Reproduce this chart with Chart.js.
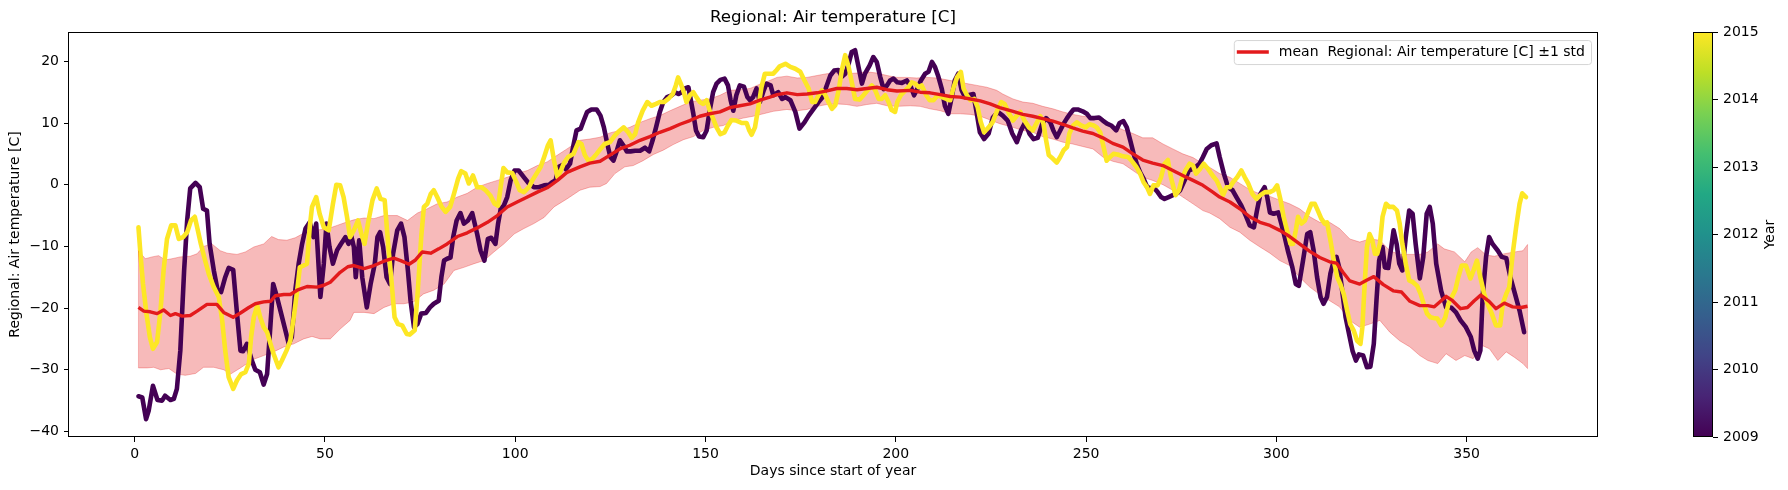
<!DOCTYPE html>
<html><head><meta charset="utf-8">
<script src="https://cdn.jsdelivr.net/npm/chart.js@4/dist/chart.umd.min.js"></script>
<style>
html,body{margin:0;padding:0;background:#fff;}
#wrap{position:relative;width:1788px;height:490px;overflow:hidden;}
#main{position:absolute;left:0;top:0;}
#cbar{position:absolute;left:1660px;top:0;}
</style></head><body>
<div id="wrap"><canvas id="main" width="1788" height="490"></canvas><canvas id="cbar" width="128" height="490"></canvas></div>
<script>
// ---------- data: [day, temperature °C] ----------
const t2009 = [[1,-34.3],[2,-34.5],[3,-38.0],[3.7,-36.6],[4.8,-32.6],[6,-34.9],[7.2,-35],[8,-34.2],[9.4,-34.9],[10.3,-34.7],[11.1,-33.1],[12,-26.9],[13,-13.9],[13.8,-5.8],[14.6,-0.6],[16,0.3],[17.1,-0.4],[18,-3.9],[19,-4.2],[19.7,-9.6],[20.8,-13.9],[21.8,-17.1],[22.7,-17.4],[23.8,-15],[24.7,-13.5],[25.9,-13.8],[26.9,-20.9],[27.8,-26.9],[28.5,-27],[29.5,-25.8],[30.8,-28.5],[31.7,-30],[32.9,-30.4],[33.9,-32.4],[34.8,-30.7],[35.7,-22.6],[36.4,-16.1],[37.4,-18.2],[38.5,-20.9],[39.6,-23.6],[40.5,-25.8],[41.3,-24.7],[42.2,-17.2],[43.1,-12.8],[44,-9.6],[44.9,-7.1],[46,-6.1],[47,-8.5],[47.7,-6.3],[48.8,-18.2],[49.7,-12.8],[50.4,-6.3],[51.2,-10.1],[52.1,-12.8],[53.2,-10.6],[54.2,-9.6],[55.4,-8.5],[56.2,-9.6],[56.8,-8],[57.6,-10.1],[58.1,-15],[59,-9],[59.8,-15],[61,-19.9],[62,-16.1],[63.1,-12.8],[63.8,-8.5],[64.5,-7.7],[65.3,-10.1],[66.2,-15],[67.1,-16.1],[67.9,-11.2],[69,-7.4],[70,-6.3],[70.9,-8.5],[71.8,-13.9],[72.5,-18.8],[73.4,-23.1],[74.3,-22.6],[75.3,-20.9],[76.5,-20.8],[77.6,-19.9],[78.6,-19.3],[79.9,-18.8],[80.6,-15],[81.3,-12.3],[82.1,-12],[83,-11.8],[83.7,-8.5],[84.6,-5.8],[85.6,-4.6],[86.5,-6.3],[87.6,-5.8],[88.7,-4.6],[90,-8],[90.9,-10.7],[91.9,-12.3],[92.8,-8.8],[93.7,-8.6],[94.8,-9.6],[95.5,-6.3],[96.2,-3.9],[97,-3.4],[97.9,-2],[98.8,0.7],[99.8,2.3],[100.9,2.3],[102.3,1.2],[103.6,0.2],[104.9,-0.4],[106.2,-0.4],[107.6,-0.1],[108.9,0],[109.7,0.4],[110.6,0.7],[111.5,2.9],[112.4,3.2],[113.3,2.5],[114.4,3.4],[115.2,6.1],[116.1,8.8],[117.2,9.1],[118,10.4],[118.9,11.8],[120,12.2],[121.4,12.2],[122.4,11.2],[123.3,9.3],[124.2,6.6],[125,4.5],[125.8,3.9],[126.6,5.3],[127.5,7.2],[128.4,6.4],[129.3,5.4],[130.3,5.4],[131.5,5.5],[132.8,5.5],[134.1,6],[135.2,5.4],[136.1,7.2],[137,9.3],[138,11.8],[138.9,13.4],[139.9,14.2],[141.1,14.5],[142,15],[142.9,14.7],[143.7,15],[144.6,15.6],[145.5,15.8],[146,14.2],[146.8,11.5],[147.5,8.8],[148.3,7.8],[149.4,7.7],[150.3,8.8],[151.1,12],[152,15],[152.9,16.4],[153.9,17],[155,17.2],[155.9,16.1],[156.6,13.7],[157.3,12],[158.1,14.5],[159,16.1],[160.1,15.9],[161,14.2],[161.7,13.7],[162.5,14.2],[163.4,15.6],[164.3,13.4],[165.3,15.3],[166,16.4],[167.1,16.1],[167.8,14.5],[169.1,15],[170.1,13.9],[171,14.2],[172.3,13.7],[173.6,11.8],[174.7,9.1],[176,10.1],[177.1,11.2],[178.4,12.3],[179.7,13.4],[180.8,14.2],[181.7,15.8],[182.8,17.7],[183.8,18.5],[184.9,18.6],[185.8,17.5],[186.7,18],[187.6,19.6],[188.4,21.5],[189.3,21.8],[190.2,19.1],[191.1,16.4],[191.9,18],[193.1,19.3],[194.1,20.7],[195,19.9],[195.9,17.5],[196.8,15.5],[197.7,16.1],[198.5,16.9],[199.4,17.2],[200.4,16.6],[201.6,16.5],[202.9,16.9],[204,15.8],[204.8,14.5],[205.7,15.6],[206.6,16.9],[207.7,18],[208.6,18.3],[209.5,19.9],[210.3,19.1],[211.2,17.5],[212.1,15.5],[212.9,12.8],[213.8,11.5],[214.7,14.2],[215.5,16.9],[216.4,18],[217.3,15.3],[218.2,14.2],[219,14.5],[220.4,14.7],[221.3,11.5],[222.1,8.5],[223.2,7.4],[224.4,8.3],[225.5,10.9],[226.8,11.8],[228.1,11.2],[229.4,10.4],[230.6,8.3],[231.8,6.9],[232.9,8.8],[234,10.1],[235.1,8.3],[236.2,7.4],[237.3,7.6],[238.5,9.9],[239.5,10.8],[240.6,10.1],[241.4,8.8],[242.3,7.7],[243.2,8.8],[244.1,9.9],[245,10.8],[245.8,11.5],[246.7,12.2],[247.8,12.2],[249.1,11.9],[250.2,11.5],[251.1,10.8],[252.2,10.8],[253.4,10.9],[254.4,10.4],[255.5,9.9],[256.6,9.6],[257.9,8.8],[258.8,10],[259.8,10.3],[260.7,9.3],[261.6,7.2],[262.5,5],[263.3,3.4],[264.2,2],[265.1,1],[266,-0.3],[266.8,-0.6],[267.7,-0.4],[268.8,-1.2],[269.7,-2],[270.6,-2.3],[271.7,-2],[272.8,-1.7],[273.7,-1.5],[274.7,-0.9],[275.9,0.7],[277,2.3],[278.1,2.6],[278.9,2.9],[279.8,3.4],[280.7,4.5],[281.7,5.8],[282.9,6.4],[284.3,6.7],[285.1,4.5],[286.2,1.8],[287.3,-0.4],[288.5,-0.9],[289.5,-2],[290.8,-3.4],[292.1,-5.2],[293,-6.6],[294.1,-6.9],[294.9,-4.2],[295.8,-1.5],[296.9,-0.4],[297.6,-2],[298.3,-4.5],[299.3,-4.7],[300.5,-4.5],[301.3,-6.3],[302.2,-8.5],[303.1,-10.9],[304.2,-13.4],[305.1,-16.1],[305.9,-16.4],[307,-12.3],[308.1,-8],[308.9,-7.7],[309.8,-10.7],[310.7,-15],[311.6,-18.2],[312.4,-19.3],[313.3,-18.2],[314.2,-14.4],[315.1,-12.3],[315.8,-11.7],[316.5,-13.4],[317.4,-17.7],[318.2,-21.5],[319.1,-24.2],[320,-26.9],[320.9,-28.5],[321.7,-27.5],[322.8,-27.7],[323.8,-29.6],[324.7,-29.5],[325.6,-25.8],[326.3,-18.8],[327,-12.3],[327.9,-10.1],[328.5,-13.4],[329.4,-13.5],[330.2,-10.1],[330.8,-7.4],[331.6,-9.6],[332.3,-12.8],[333.1,-13.9],[334,-8.5],[334.9,-4.2],[335.8,-4.7],[336.6,-9.6],[337.7,-15.2],[338.6,-11.7],[339.5,-4.7],[340.3,-3.6],[341.1,-6.3],[342,-12.8],[343.3,-17.2],[344.6,-19.9],[345.9,-19.9],[347.2,-20.7],[348.4,-22],[349.8,-23.1],[351.1,-24.7],[352,-26.9],[352.9,-28.2],[353.6,-26.9],[354.2,-18.2],[355.1,-11.7],[355.9,-8.5],[356.8,-9.6],[358.2,-10.7],[359.2,-11.7],[360.4,-11.9],[361.5,-15],[362.7,-17.7],[363.9,-20.4],[365.1,-23.9]];

const t2015 = [[1,-6.9],[1.6,-11.8],[2.2,-16.1],[3.1,-20.9],[4,-24.7],[4.8,-26.6],[5.9,-25.5],[6.8,-20.4],[7.6,-13.9],[8.5,-8.8],[9.6,-6.6],[10.7,-6.6],[11.6,-8.8],[12.7,-8.5],[13.8,-7.7],[14.8,-5.8],[15.8,-5.2],[16.6,-7.4],[17.4,-9.6],[18.3,-11.8],[19.5,-14.5],[20.8,-16.6],[22.1,-18.2],[23,-22],[23.8,-26.9],[24.7,-31.2],[25.9,-33.1],[26.9,-31.7],[28,-30.7],[29.1,-30.4],[30,-29],[30.6,-24.7],[31.3,-21.5],[32.2,-19.6],[33,-21.5],[33.9,-23.1],[34.8,-23.9],[35.7,-25.8],[36.5,-27.4],[37.8,-29.6],[38.7,-28.5],[39.9,-26.9],[40.9,-25.3],[41.8,-21.5],[42.7,-17.2],[43.4,-13.4],[44.4,-13.1],[45.3,-12.8],[46,-6.9],[46.6,-3.6],[47.7,-2],[48.6,-4.7],[49.7,-6.9],[51,-7.4],[52.1,-3.1],[53,0],[54,-0.1],[54.9,-2],[55.8,-5.2],[56.6,-8.5],[57.6,-7.4],[58.7,-5.8],[59.6,-8],[60.4,-9.6],[61.3,-6.3],[62.5,-2.5],[63.6,-0.6],[64.6,-2.3],[65.7,-2.5],[66.6,-9.6],[67.4,-15],[68.3,-21.5],[69.2,-22.6],[70.3,-22.8],[71.5,-24.2],[72.3,-24.3],[73.6,-23.6],[74.4,-17.2],[75.3,-8.5],[76,-3.6],[76.9,-3.1],[77.8,-1.5],[78.6,-0.9],[79.5,-2],[80.6,-3.5],[81.7,-4.4],[82.9,-3.6],[83.9,-1.5],[85,1],[85.8,2.2],[86.9,1.8],[87.8,0.2],[88.9,1.5],[90,-0.4],[91.1,-0.4],[92.2,-0.9],[93.4,-1.7],[94.6,-3.1],[95.5,-3.4],[96.3,0.2],[96.9,2.7],[97.9,2],[99.2,1.9],[100.1,0.7],[101.2,-0.9],[102.3,-1.2],[103.6,-0.4],[104.5,0.7],[105.6,1.8],[106.7,2.9],[107.6,4.5],[108.6,6.4],[109.3,7.2],[110.2,3.9],[111.1,1.2],[112,2.3],[112.8,3.5],[113.9,4.5],[115.3,5],[116.6,6.9],[117.4,6.6],[118.3,4.8],[119.2,3.9],[120.3,4.2],[121.4,5],[122.4,5.8],[123.5,6.6],[124.9,6.9],[126.2,8],[127.5,8.8],[128.5,9.3],[129.7,8.5],[130.6,7.6],[131.5,8.2],[132.3,10.1],[133.5,12],[134.7,13.4],[135.8,12.8],[137,13.1],[138,13.4],[139.1,13.4],[140.2,13.9],[141.4,14.7],[142.2,16.1],[142.8,17.4],[143.5,16.4],[144.3,15],[145,13.4],[145.9,14.5],[146.8,15],[147.6,14.2],[148.5,13.4],[149.4,13.1],[150.3,13.7],[151.1,12],[152,10.7],[152.9,9.3],[153.9,8.2],[155,8.5],[155.9,9.6],[156.8,10.5],[158.1,10.4],[159.5,10],[160.8,10],[161.5,8.8],[162.1,8.1],[163,9.3],[163.9,12.6],[164.7,15.8],[165.6,18],[166.7,18],[167.8,18],[168.7,18.6],[169.5,19.2],[171,19.6],[172.3,19.1],[173.6,18.8],[174.9,18.3],[176,16.9],[177.1,15.6],[178,13.4],[178.8,13.4],[179.7,14.5],[180.6,15.3],[181.5,14.5],[182.3,13.4],[183.2,12.3],[184.1,12.9],[185,15.3],[185.8,18.5],[186.7,21],[187.6,19.1],[188.5,16.4],[189.3,13.9],[190.5,13.8],[191.5,14.5],[192.6,15.3],[193.7,16.1],[194.6,15.3],[195.5,13.9],[196.3,13.9],[197.2,14.5],[198.1,13.4],[198.9,12.1],[199.8,11.8],[200.4,13.4],[201.3,14.5],[202.5,15.3],[203.3,15.8],[204.2,16.6],[205.1,16.4],[206,15.8],[206.8,16.1],[208,14.5],[208.9,13.7],[209.9,13.7],[211,14.5],[212.1,14.2],[213.3,13.9],[214.3,13.7],[215.2,15.8],[216.1,17.4],[217.1,18.3],[217.8,15.6],[218.7,14.5],[219.6,13.7],[220.6,13.9],[221.5,12.6],[222.3,10.2],[223.2,8.5],[224.4,9.3],[225.5,10.2],[226.6,12],[227.7,13.4],[228.6,13.1],[229.7,11.6],[230.8,10.4],[231.8,11.2],[232.7,11.8],[233.8,10.4],[235,9.3],[236,8.8],[237.1,10.1],[238,11.1],[238.8,9.9],[239.5,7.2],[240.2,4.8],[241.3,4.2],[242.3,3.6],[243.2,4.5],[244.1,5.6],[245,6.1],[245.6,8.3],[246.6,9.6],[247.6,10.1],[248.7,9.6],[249.9,9.3],[250.9,9.8],[252,9.6],[252.8,9.3],[253.7,8.5],[254.6,6.1],[255.4,3.9],[256.3,4.5],[257.2,5],[258.3,4.9],[259.7,4.6],[261,4.5],[262.1,3.8],[263.2,2.9],[264.2,1.8],[265.1,0.4],[266,-0.4],[266.8,-1.5],[267.7,-0.1],[268.8,-0.1],[269.7,1.2],[270.6,3.4],[271.5,4],[272.3,1.2],[273.5,-1.7],[274.4,-0.9],[275.2,1],[276.1,2.3],[277.2,3.4],[278.1,3.1],[278.9,1.8],[280,2.6],[280.9,3.4],[282,2.6],[282.9,1.8],[283.6,1.2],[284.3,0.7],[285.1,-0.4],[286,-1.7],[286.9,-0.4],[287.8,-0.4],[288.6,0.4],[289.7,1.2],[290.8,2.3],[291.7,1.2],[292.6,0.2],[293.7,-1.5],[294.8,-2.3],[295.8,-1.7],[297,-1.2],[298.3,-1.2],[299.3,-0.9],[300.2,-0.1],[301.1,-2.5],[301.9,-5.2],[302.8,-7.4],[303.7,-9.6],[304.4,-9.6],[305.1,-7.4],[305.7,-5.2],[306.6,-6.3],[307.5,-5.8],[308.3,-4.5],[309.2,-3.1],[310.1,-3.1],[310.9,-4.2],[311.8,-5.5],[312.7,-6.3],[313.3,-6.1],[314.2,-9],[315.1,-12.3],[316,-15],[316.8,-16.1],[317.7,-17.7],[318.6,-20.4],[319.4,-22.6],[320.3,-23.6],[321.2,-25.3],[322.1,-25.8],[322.6,-23.1],[323.2,-16.1],[323.8,-10.1],[324.5,-8],[325.2,-9],[325.9,-11.2],[326.5,-11.2],[327.2,-9.6],[327.9,-5.2],[328.8,-3.1],[329.7,-3.6],[330.7,-3.6],[331.7,-4.2],[332.4,-6.3],[333.1,-9.6],[334,-12.8],[334.9,-15.5],[335.9,-15.8],[337,-16.4],[337.9,-17.7],[338.7,-19.3],[339.6,-20.9],[340.5,-21.5],[341.3,-21.6],[342.3,-21.7],[343.3,-22.8],[344.4,-21.5],[345.2,-19.3],[346.1,-18.2],[347,-17.1],[347.8,-15],[348.7,-13.1],[349.8,-13.1],[351,-15.2],[351.8,-13.9],[352.7,-12.3],[353.6,-15],[354.6,-17.7],[355.5,-19.3],[356.6,-20.9],[357.7,-22.8],[358.8,-22.8],[359.5,-19.3],[360.4,-17.7],[361.2,-16.6],[362.1,-11.2],[363,-6.9],[363.9,-3.1],[364.6,-1.4],[365.6,-2]];

const meanT = [[1,-19.9],[2.4,-20.5],[4.1,-20.6],[5.9,-20.9],[7.6,-20.3],[9.4,-21.2],[10.7,-20.9],[12.5,-21.3],[14.6,-21.2],[16.4,-20.5],[19,-19.4],[21.6,-19.4],[23.4,-20.7],[25.9,-21.5],[27.8,-20.8],[30,-19.9],[31.7,-19.3],[33.9,-19],[35.7,-18.9],[37,-18],[39.2,-17.8],[40.9,-17.8],[42.7,-17.1],[45.3,-16.5],[47.9,-16.6],[49.7,-16.3],[51.4,-15.8],[54,-14.2],[56,-13.3],[57.6,-13.1],[60.3,-13.6],[62.9,-13.1],[65.5,-12.4],[68.1,-11.9],[69.9,-12.3],[72.1,-12.9],[73.8,-12.2],[75.6,-10.9],[77.8,-11.1],[79.9,-10.4],[82.1,-9.6],[84.8,-8.4],[87.4,-7.8],[90,-7],[92.7,-6.1],[95.3,-5],[97.9,-3.6],[100.5,-2.8],[103.2,-2],[105.8,-1.2],[108.4,-0.5],[111.1,0.7],[113.6,2],[117,2.9],[119.6,3.5],[122.3,3.8],[124.9,4.8],[127.5,5.8],[130.1,6.4],[132.8,7.2],[135.4,7.8],[138,8.5],[140.7,9.1],[143.3,9.8],[145.9,10.4],[148.5,11.1],[151.1,11.5],[153.8,11.8],[156.4,12.5],[159,12.8],[161.7,13.1],[164.3,13.7],[166.9,14.2],[168.8,14.6],[171.4,14.9],[174.1,14.6],[176.7,14.7],[179.3,14.9],[181.9,15.2],[184.5,15.6],[187.1,15.6],[189.8,15.4],[192.4,15.6],[195,15.8],[197.7,15.4],[200.3,15.2],[203.8,15.3],[206.4,15],[209,14.9],[211.7,14.6],[214.3,14.3],[216.9,14.2],[219.6,13.9],[222.2,13.6],[224.8,13.1],[227.3,12.5],[230.8,11.9],[233.4,11.4],[236,11.1],[238.6,10.7],[241.3,10.3],[243.9,9.8],[246.5,9.2],[249.1,8.7],[251.8,8.3],[254.4,7.6],[257,6.7],[259.7,6.1],[262.3,5],[264.9,4],[267.5,3.5],[270.2,3.1],[272.8,2.3],[275.4,1.5],[278.1,0.7],[280.7,-0.1],[283.3,-1.2],[285.1,-2],[287.8,-2.8],[290.4,-3.9],[293,-5.2],[295.7,-6.1],[298.3,-6.6],[300.9,-7.4],[303.5,-8.4],[306.1,-9.6],[308.8,-10.8],[311.4,-11.8],[314,-12.5],[315.8,-12.7],[317.5,-14.2],[319.3,-15.6],[321.9,-16.1],[323.7,-15.5],[325.6,-14.9],[328.1,-16.2],[330.7,-17.2],[332.9,-17.4],[335.1,-18.9],[337.7,-19.6],[339.8,-19.6],[341.5,-19.8],[343.3,-18.8],[344.6,-18.1],[346.3,-18.8],[348.4,-20.1],[350.2,-19.9],[352,-18.8],[353.7,-17.9],[355.9,-18.9],[357.7,-20.1],[359.9,-19.2],[362.1,-19.8],[364.3,-19.9],[366,-19.7]];

const upperT = [[1,-10.7],[2.8,-12],[4.6,-11.7],[6.3,-11.5],[8,-12.2],[9.8,-12],[12,-11.7],[14.6,-11.6],[16.4,-11.2],[18.1,-10],[20.3,-9.6],[22.5,-10.7],[24.3,-11.1],[26.9,-11.3],[29.1,-10.9],[31.3,-10.1],[33.9,-9.6],[36,-8.4],[37.8,-8.9],[40,-9],[42.2,-8.6],[44,-8],[47,-7.4],[50.5,-7.2],[53.2,-6.6],[55.5,-6.1],[57.6,-5.7],[60.3,-5.4],[62.9,-5.5],[65.5,-5],[69,-5],[71.7,-5.8],[74.3,-4.6],[76.9,-3.9],[79.5,-3.1],[82.1,-2.8],[84.8,-2],[87.4,-1.4],[90,-0.4],[92.7,0.2],[95.3,0.7],[97.9,1.2],[100.5,1.8],[103.2,2.3],[105.8,3.1],[108.4,3.7],[111.1,4.8],[113.6,5.8],[117,7.2],[119.6,7.4],[122.3,7.7],[124.9,8.4],[127.5,8.8],[130.1,9.3],[132.8,10.1],[135.4,10.7],[138,11.2],[140.7,12],[143.3,12.7],[145.9,13.4],[148.5,13.7],[151.1,13.9],[153.8,14.5],[156.4,15.3],[159,15.4],[161.7,15.6],[164.3,16.3],[166.9,16.9],[168.8,17.4],[171.4,17.6],[174.1,17.3],[176.7,17.4],[179.3,17.7],[181.9,18],[184.5,18.1],[187.1,18],[189.8,18.1],[192.4,18.3],[195,18.1],[197.7,17.7],[200.3,17.4],[202.9,17.4],[205.5,17.3],[208.1,17.4],[210.8,17.3],[213.4,17],[216,16.7],[218.6,16.4],[221.3,16.1],[223.9,15.8],[226.5,15.3],[228.1,14.7],[230.8,13.9],[233.4,13.4],[236,13.2],[238.6,12.7],[241.3,12.3],[243.9,11.8],[246.5,11.4],[249.1,11.1],[251.8,10.9],[254.4,10.5],[257,9.6],[259.7,8.9],[262.3,8.3],[264.9,7.6],[267.5,7.6],[270.2,6.6],[272.8,5.8],[275.4,5],[278.1,4.4],[280.7,3.4],[282.5,2.8],[285.1,1.8],[287.8,1.2],[290.4,0.2],[293,-0.8],[295.7,-1.5],[298.3,-1.9],[300.9,-2.5],[303.5,-3.1],[306.1,-3.9],[308.8,-5.2],[311.4,-6.1],[314,-6.1],[316.6,-7.1],[319.3,-8.8],[321.9,-9.3],[324.5,-8.8],[327.2,-9],[329.8,-10.7],[332.4,-11.3],[335.1,-11.3],[337.7,-11.3],[339.8,-10.9],[342.4,-9.6],[344.1,-10.4],[346.8,-10.9],[349.5,-12.5],[351.2,-10.9],[352.9,-10.2],[355.1,-11.4],[357.3,-11.6],[359.9,-11.2],[362.6,-10.9],[364.8,-10.7],[366,-9.7]];

const lowerT = [[1,-29.7],[3.3,-29.7],[5,-29.6],[6.8,-30],[9,-29.8],[11.1,-30.7],[13.3,-30.9],[16,-30.6],[18.1,-29.6],[20.8,-29.6],[23.4,-30],[25.2,-30.7],[27.8,-29.7],[29.5,-29],[31.7,-28.2],[33.9,-27.7],[36.5,-27.1],[39.2,-26.3],[41.8,-25.8],[44.4,-25],[46.6,-24.6],[48.8,-25],[51.4,-25],[54,-23.4],[56.6,-22],[57.6,-20.7],[60.3,-20.7],[62.9,-20.9],[65.5,-19.9],[68.1,-19.3],[70.7,-19.3],[73.3,-19],[75.9,-17.7],[78.6,-17.1],[81.3,-16.1],[83.9,-13.9],[86.5,-13.4],[89.2,-12.8],[91.8,-12.3],[94.4,-10.9],[97,-9.6],[99.7,-8],[102.3,-7.1],[104.9,-6.3],[107.6,-5.3],[110.2,-3.6],[113.6,-2.3],[117,-0.9],[119.6,-0.4],[122.3,-0.3],[124,0.2],[126.2,1.8],[128.8,2.9],[131,3.1],[133.6,3.9],[136.3,4.9],[138.9,5.6],[141.5,6.5],[144.2,7.3],[146.8,7.8],[149.4,8.8],[152,9.3],[154.7,9.6],[157.3,10.4],[159.9,10.8],[162.5,11.1],[165.2,11.5],[167.8,11.9],[171.4,12.2],[174.1,12],[176.7,12.2],[179.3,12.7],[181.9,13],[184.5,13.1],[187.1,13],[189.8,12.7],[192.4,13],[195,13.2],[197.7,12.8],[200.3,12.7],[203.8,12.8],[206.4,12.7],[209,12.3],[211.7,12],[214.3,11.5],[216.9,11.5],[219.6,11.4],[222.2,11.1],[224.8,10.5],[227.3,9.9],[230.8,9.3],[233.4,8.8],[236,8.5],[238.6,7.8],[241.3,7.4],[243.9,6.9],[246.5,6.6],[249.1,6.2],[251.8,5.8],[254.4,4.5],[257,3.8],[259.7,3.4],[262.3,2.3],[264.9,1.2],[267.5,0.7],[270.2,0],[272.8,-0.9],[275.4,-2],[278.1,-3.1],[280.7,-4.2],[282.5,-4.6],[285.1,-5.5],[287.8,-6.9],[290.4,-7.7],[293,-9],[295.7,-10.1],[298.3,-11.1],[300.9,-12.3],[303.5,-13.1],[306.1,-15],[308.8,-16.6],[311.4,-17.8],[314,-18.8],[316.6,-19.8],[319.3,-22],[321.9,-23.1],[324.5,-22.6],[327.2,-22],[329.8,-23.9],[332.4,-25.3],[335.1,-26.3],[337.7,-27.7],[339.8,-28.5],[342.4,-29],[344.6,-27.4],[347.2,-28.5],[349.5,-27.7],[351.7,-28.2],[354.2,-26.1],[356,-26.6],[358.2,-28.5],[360.4,-27.1],[362.6,-28],[364.8,-29],[366,-29.8]];

const xTicks = [0, 50, 100, 150, 200, 250, 300, 350];
const yTicks = [-40, -30, -20, -10, 0, 10, 20];
const cbTicks = [2009, 2010, 2011, 2012, 2013, 2014, 2015];
const legendLabel = 'mean  Regional: Air temperature [C] \u00b11 std';
const chartTitle = 'Regional: Air temperature [C]';
const xTitle = 'Days since start of year';
const yTitle = 'Regional: Air temperature [C]';
const cbTitle = 'Year';

// ---------- styling ----------
const FONT = "'DejaVu Sans', 'Liberation Sans', sans-serif";
Chart.defaults.font.family = FONT;
Chart.defaults.font.size = 14;
Chart.defaults.color = '#000';
const RED = '#e31a1c';
const BAND = 'rgba(227,26,28,0.3)';
const VIRIDIS = ['#440154','#482475','#414487','#355f8d','#2a788e','#21918c','#22a884','#44bf70','#7ad151','#bddf26','#fde725'];
const toXY = arr => arr.map(p => ({x: p[0], y: p[1]}));
const minus = v => (v < 0 ? '\u2212' + Math.abs(v) : String(v));

const framePlugin = {
  id: 'frame',
  afterDatasetsDraw(chart) {
    const a = chart.chartArea, ctx = chart.ctx;
    ctx.save();
    // closing edges of the ±1 std band at the first and last day
    const xs = chart.scales.x, ys = chart.scales.y;
    [[lowerT[0], upperT[0]], [lowerT[lowerT.length - 1], upperT[upperT.length - 1]]].forEach(([lo, hi]) => {
      ctx.beginPath();
      ctx.moveTo(xs.getPixelForValue(lo[0]), ys.getPixelForValue(lo[1]));
      ctx.lineTo(xs.getPixelForValue(hi[0]), ys.getPixelForValue(hi[1]));
      ctx.strokeStyle = BAND; ctx.lineWidth = 1; ctx.stroke();
    });
    ctx.strokeStyle = '#000'; ctx.lineWidth = 1;
    ctx.strokeRect(Math.round(a.left) - 0.5, Math.round(a.top) + 0.5, Math.round(a.right - a.left) + 1, Math.round(a.bottom - a.top) - 1);
    ctx.restore();
  }
};

const legendPlugin = {
  id: 'legendBox',
  afterDraw(chart) {
    const a = chart.chartArea, ctx = chart.ctx;
    ctx.save();
    ctx.font = '14px ' + FONT;
    const w = ctx.measureText(legendLabel).width;
    const right = a.right - 6;
    const textEnd = right - 6;
    const textStart = textEnd - w;
    const lineEnd = textStart - 10, lineStart = lineEnd - 32;
    const left = lineStart - 3;
    const top = a.top + 8, bottom = top + 24, mid = (top + bottom) / 2;
    ctx.beginPath();
    if (ctx.roundRect) ctx.roundRect(left + 0.5, top + 0.5, right - left, bottom - top, 3); else ctx.rect(left + 0.5, top + 0.5, right - left, bottom - top);
    ctx.fillStyle = 'rgba(255,255,255,0.8)'; ctx.fill();
    ctx.strokeStyle = 'rgba(204,204,204,0.8)'; ctx.lineWidth = 1; ctx.stroke();
    ctx.beginPath(); ctx.moveTo(lineStart, mid); ctx.lineTo(lineEnd, mid);
    ctx.strokeStyle = RED; ctx.lineWidth = 3.5; ctx.stroke();
    ctx.fillStyle = '#000'; ctx.textAlign = 'left'; ctx.textBaseline = 'middle';
    ctx.fillText(legendLabel, textStart, mid + 0.5);
    ctx.restore();
  }
};

new Chart(document.getElementById('main'), {
  type: 'line',
  data: {
    datasets: [
      {label: 'lower', data: toXY(lowerT), borderColor: BAND, borderWidth: 1, fill: false, pointRadius: 0, order: 4},
      {label: 'upper', data: toXY(upperT), borderColor: BAND, backgroundColor: BAND, borderWidth: 1, fill: '-1', pointRadius: 0, order: 3},
      {label: '2009', data: toXY(t2009), borderColor: VIRIDIS[0], borderWidth: 4.6, fill: false, pointRadius: 0, borderJoinStyle: 'round', borderCapStyle: 'round', order: 2},
      {label: '2015', data: toXY(t2015), borderColor: VIRIDIS[10], borderWidth: 4.6, fill: false, pointRadius: 0, borderJoinStyle: 'round', borderCapStyle: 'round', order: 1},
      {label: 'mean', data: toXY(meanT), borderColor: RED, borderWidth: 3.4, fill: false, pointRadius: 0, borderJoinStyle: 'round', order: 0}
    ]
  },
  options: {
    responsive: false, animation: false, devicePixelRatio: 1,
    layout: {padding: {left: 0, right: 191, top: 0, bottom: 0}},
    elements: {line: {tension: 0}, point: {radius: 0}},
    plugins: {
      legend: {display: false}, tooltip: {enabled: false},
      title: {display: true, text: chartTitle, fullSize: false, color: '#000',
              font: {size: 16.7, weight: 'normal'}, padding: {top: 7.5, bottom: 4.5}}
    },
    scales: {
      x: {
        type: 'linear', min: -17.25, max: 384.25,
        afterBuildTicks: s => { s.ticks = xTicks.map(v => ({value: v})); },
        afterFit: s => { s.height = 53; },
        grid: {drawOnChartArea: false, drawTicks: true, tickLength: 5, color: '#000'},
        border: {display: false},
        ticks: {padding: 4, maxRotation: 0, autoSkip: false, callback: v => minus(v)},
        title: {display: true, text: xTitle, padding: {top: 0, bottom: 10.6}}
      },
      y: {
        type: 'linear', min: -40.9, max: 24.75,
        afterBuildTicks: s => { s.ticks = yTicks.map(v => ({value: v})); },
        afterFit: s => { s.width = 69; },
        grid: {drawOnChartArea: false, drawTicks: true, tickLength: 5, color: '#000'},
        border: {display: false},
        ticks: {padding: 5, autoSkip: false, callback: v => minus(v)},
        title: {display: true, text: yTitle, padding: {top: 6.6, bottom: 0}}
      }
    }
  },
  plugins: [framePlugin, legendPlugin]
});

// ---------- colorbar ----------
const cbFrame = {
  id: 'cbFrame',
  afterDraw(chart) {
    const a = chart.chartArea, ctx = chart.ctx;
    ctx.save();
    ctx.strokeStyle = '#000'; ctx.lineWidth = 1;
    ctx.strokeRect(Math.round(a.left) + 0.5, Math.round(a.top) + 0.5, Math.round(a.right - a.left) - 1, Math.round(a.bottom - a.top) - 1);
    ctx.font = '14px ' + FONT; ctx.fillStyle = '#000';
    ctx.translate(110, (a.top + a.bottom) / 2);
    ctx.rotate(-Math.PI / 2);
    ctx.textAlign = 'center'; ctx.textBaseline = 'middle';
    ctx.fillText(cbTitle, 0, 0);
    ctx.restore();
  }
};

new Chart(document.getElementById('cbar'), {
  type: 'bar',
  data: {
    labels: [cbTitle],
    datasets: [{
      data: [[cbTicks[0], cbTicks[cbTicks.length - 1]]],
      backgroundColor: c => {
        const ch = c.chart, a = ch.chartArea;
        if (!a) return VIRIDIS[5];
        const g = ch.ctx.createLinearGradient(0, a.bottom, 0, a.top);
        VIRIDIS.forEach((col, i) => g.addColorStop(i / (VIRIDIS.length - 1), col));
        return g;
      },
      borderWidth: 0, barPercentage: 1, categoryPercentage: 1
    }]
  },
  options: {
    responsive: false, animation: false, devicePixelRatio: 1,
    layout: {padding: {left: 33, top: 32, bottom: 53, right: 0}},
    plugins: {legend: {display: false}, tooltip: {enabled: false}, title: {display: false}},
    scales: {
      x: {display: false},
      y: {
        position: 'right', min: 2009, max: 2015,
        afterBuildTicks: s => { s.ticks = cbTicks.map(v => ({value: v})); },
        afterFit: s => { s.width = 75; },
        grid: {drawOnChartArea: false, drawTicks: true, tickLength: 5, color: '#000'},
        border: {display: false},
        ticks: {padding: 5, autoSkip: false, callback: v => String(v)}
      }
    }
  },
  plugins: [cbFrame]
});
</script>
</body></html>
